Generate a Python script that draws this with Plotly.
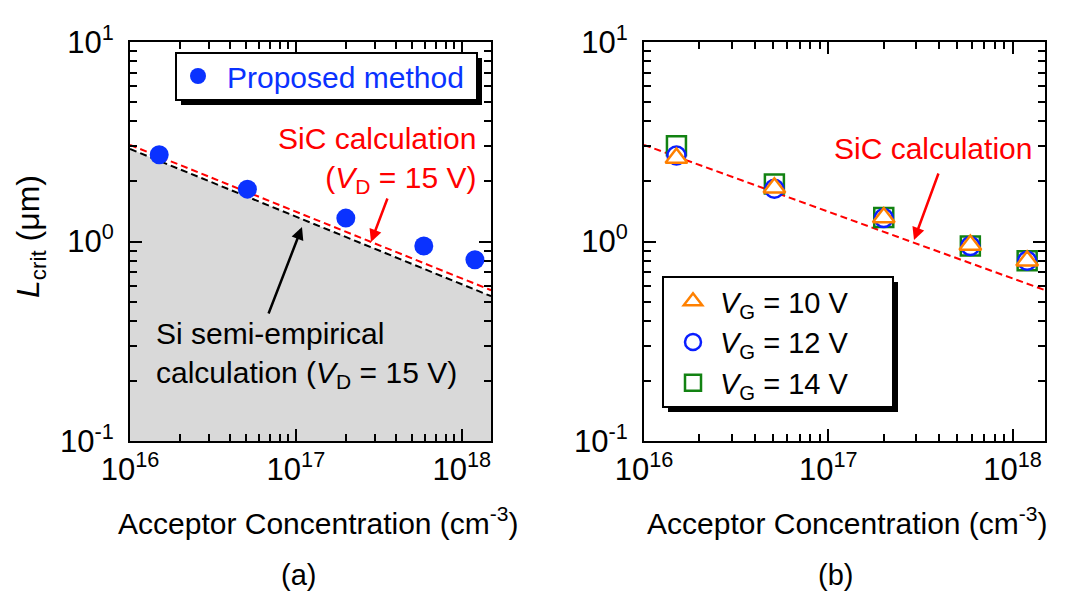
import plotly.graph_objects as go

W, H = 1075, 593

# ---- data ----
acceptor = [1.5e16, 5.1e16, 2.0e17, 5.9e17, 1.2e18]
proposed = [2.72, 1.83, 1.31, 0.95, 0.81]
vg10 = [2.62, 1.86, 1.32, 0.96, 0.80]
vg12 = [2.70, 1.84, 1.31, 0.95, 0.80]
vg14 = [3.02, 1.94, 1.32, 0.95, 0.80]
calc_x = [1.0e16, 1.5e18]
sic_calc = [3.05, 0.57]
si_semi = [2.91, 0.532]

x_tickvals = [1e16, 1e17, 1e18]
x_ticktext = ["10<sup>16</sup>", "10<sup>17</sup>", "10<sup>18</sup>"]
y_tickvals = [0.1, 1, 10]
y_ticktext = ["10<sup>-1</sup>", "10<sup>0</sup>", "10<sup>1</sup>"]

FONT = "Liberation Sans, Arial, sans-serif"
BLUE = "#0a32ff"
RED = "#ff0000"
ORANGE = "#ff8000"
GREEN = "#128212"


def px(x):
    return x / W


def py(y):
    return 1 - y / H


x_minor = [k * 10 ** d for d in (16, 17) for k in range(2, 10)]
y_minor = [k * 10.0 ** d for d in (-1, 0) for k in range(2, 10)]

fig = go.Figure()

# ---- panel (a) ----
fig.add_trace(go.Scatter(x=calc_x, y=si_semi, mode="lines",
                         line=dict(color="black", width=2, dash="7px,4px"),
                         fill="tozeroy", fillcolor="#d9d9d9",
                         showlegend=False, xaxis="x", yaxis="y"))
fig.add_trace(go.Scatter(x=calc_x, y=sic_calc, mode="lines",
                         line=dict(color=RED, width=2, dash="7px,4px"),
                         showlegend=False, xaxis="x", yaxis="y"))
fig.add_trace(go.Scatter(x=acceptor, y=proposed, mode="markers",
                         marker=dict(color=BLUE, size=19),
                         name="Proposed method", legend="legend",
                         xaxis="x", yaxis="y"))

# ---- panel (b) ----
fig.add_trace(go.Scatter(x=calc_x, y=sic_calc, mode="lines",
                         line=dict(color=RED, width=2, dash="7px,4px"),
                         showlegend=False, xaxis="x2", yaxis="y2"))
fig.add_trace(go.Scatter(x=acceptor, y=vg14, mode="markers",
                         marker=dict(symbol="square", color="white", size=19,
                                     line=dict(color=GREEN, width=2.5)),
                         name="<i>V</i><sub>G</sub> = 14 V", legend="legend2",
                         xaxis="x2", yaxis="y2"))
fig.add_trace(go.Scatter(x=acceptor, y=vg12, mode="markers",
                         marker=dict(symbol="circle", color="white", size=18,
                                     line=dict(color="#0a1eff", width=2.5)),
                         name="<i>V</i><sub>G</sub> = 12 V", legend="legend2",
                         xaxis="x2", yaxis="y2"))
fig.add_trace(go.Scatter(x=acceptor, y=vg10, mode="markers",
                         marker=dict(symbol="triangle-up", color="white", size=19,
                                     line=dict(color=ORANGE, width=2.5)),
                         name="<i>V</i><sub>G</sub> = 10 V", legend="legend2",
                         xaxis="x2", yaxis="y2"))


def xaxis(domain, anchor):
    return dict(type="log", range=[16, 18.176], domain=domain, anchor=anchor,
                showline=True, linecolor="black", linewidth=2, mirror="allticks",
                ticks="inside", ticklen=12, tickwidth=2, tickcolor="black",
                tickvals=x_tickvals, ticktext=x_ticktext,
                tickfont=dict(family=FONT, size=31, color="black"),
                minor=dict(ticks="inside", ticklen=7, tickwidth=2, tickcolor="black",
                           tickvals=x_minor, showgrid=False),
                showgrid=False, zeroline=False, fixedrange=True)


def yaxis(anchor):
    return dict(type="log", range=[-1, 1], domain=[py(441), py(42)], anchor=anchor,
                showline=True, linecolor="black", linewidth=2, mirror="allticks",
                ticks="inside", ticklen=12, tickwidth=2, tickcolor="black",
                tickvals=y_tickvals, ticktext=y_ticktext, ticklabelstandoff=8,
                tickfont=dict(family=FONT, size=31, color="black"),
                minor=dict(ticks="inside", ticklen=7, tickwidth=2, tickcolor="black",
                           tickvals=y_minor, showgrid=False),
                showgrid=False, zeroline=False, fixedrange=True)


shapes = []
# legend boxes with drop shadow
for (x0, y0, x1, y1) in [(176, 53, 477, 100), (663, 277, 893, 407)]:
    shapes.append(dict(type="rect", xref="paper", yref="paper",
                       x0=px(x0 + 5), x1=px(x1 + 5), y0=py(y1 + 5), y1=py(y0 + 5),
                       fillcolor="black", line=dict(width=0), layer="above"))
    shapes.append(dict(type="rect", xref="paper", yref="paper",
                       x0=px(x0), x1=px(x1), y0=py(y1), y1=py(y0),
                       fillcolor="white", line=dict(color="black", width=2), layer="above"))

TF = dict(family=FONT, size=30)


def ann(**kw):
    d = dict(xref="paper", yref="paper", showarrow=False)
    d.update(kw)
    return d


annotations = [
    ann(text="SiC calculation<br>(<i>V</i><sub>D</sub> = 15 V)", x=px(478), y=py(160),
        xanchor="right", yanchor="middle", align="right", font=dict(TF, color=RED)),
    ann(text="", x=px(371), y=py(242), ax=17, ay=-45, showarrow=True,
        arrowcolor=RED, arrowwidth=2.5, arrowhead=2, arrowsize=1, standoff=0),
    ann(text="Si semi-empirical<br>calculation (<i>V</i><sub>D</sub> = 15 V)", x=px(154), y=py(355),
        xanchor="left", yanchor="middle", align="left", font=dict(TF, color="black")),
    ann(text="", x=px(302), y=py(227), ax=-34, ay=88, showarrow=True,
        arrowcolor="black", arrowwidth=2.5, arrowhead=2, arrowsize=1, standoff=0),
    ann(text="SiC calculation", x=px(1034), y=py(148),
        xanchor="right", yanchor="middle", font=dict(TF, color=RED)),
    ann(text="", x=px(914), y=py(240), ax=25, ay=-68, showarrow=True,
        arrowcolor=RED, arrowwidth=2.5, arrowhead=2, arrowsize=1, standoff=0),
    ann(text="Acceptor Concentration (cm<sup>-3</sup>)", x=px(318), y=py(521),
        xanchor="center", yanchor="middle", font=dict(TF, color="black")),
    ann(text="Acceptor Concentration (cm<sup>-3</sup>)", x=px(847), y=py(521),
        xanchor="center", yanchor="middle", font=dict(TF, color="black")),
    ann(text="(a)", x=px(298), y=py(593), xanchor="center", yanchor="bottom",
        font=dict(family=FONT, size=29, color="black")),
    ann(text="(b)", x=px(835), y=py(593), xanchor="center", yanchor="bottom",
        font=dict(family=FONT, size=29, color="black")),
    ann(text="<i>L</i><sub>crit</sub> (μm)", x=px(30), y=py(237), textangle=-90,
        xanchor="center", yanchor="middle", font=dict(family=FONT, size=32, color="black")),
]

fig.update_layout(
    width=W, height=H, margin=dict(l=0, r=0, t=0, b=0, autoexpand=False),
    paper_bgcolor="white", plot_bgcolor="white",
    font=dict(family=FONT, color="black"),
    xaxis=xaxis([px(130), px(491)], "y"), yaxis=yaxis("x"),
    xaxis2=xaxis([px(644), px(1045)], "y2"), yaxis2=yaxis("x2"),
    shapes=shapes, annotations=annotations,
    legend=dict(x=px(169), y=py(50), xanchor="left", yanchor="top",
                bgcolor="rgba(0,0,0,0)", borderwidth=0, itemwidth=48,
                font=dict(family=FONT, size=30, color=BLUE)),
    legend2=dict(x=px(666), y=py(276), xanchor="left", yanchor="top",
                 bgcolor="rgba(0,0,0,0)", borderwidth=0, itemwidth=44,
                 traceorder="reversed", tracegroupgap=0,
                 font=dict(family=FONT, size=29, color="black")),
)

fig.write_html("out.html")
